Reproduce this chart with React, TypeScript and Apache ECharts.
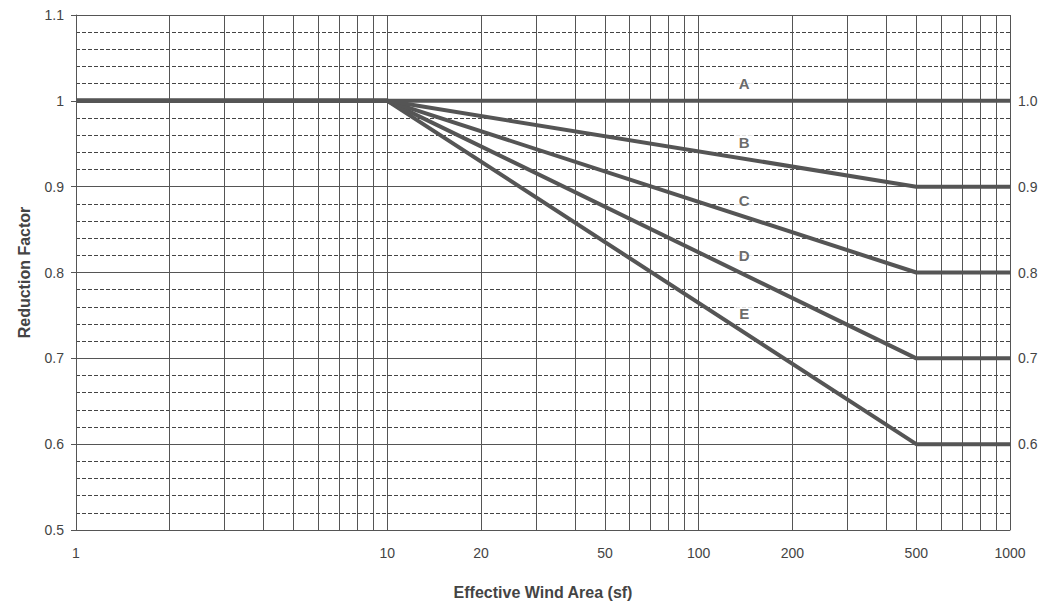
import React, { useEffect, useRef } from "react";
import * as echarts from "echarts";

const gridXValues = [1, 2, 3, 4, 5, 6, 7, 8, 9, 10, 20, 30, 40, 50, 60, 70, 80, 90, 100, 200, 300, 400, 500, 600, 700, 800, 900, 1000];
const xLabelValues = [1, 10, 20, 50, 100, 200, 500, 1000];
const seriesNames = ["A", "B", "C", "D", "E"];
const seriesPoints: number[][][] = [
  [[1, 1.0], [10, 1.0], [1000, 1.0]],
  [[1, 1.0], [10, 1.0], [500, 0.9], [1000, 0.9]],
  [[1, 1.0], [10, 1.0], [500, 0.8], [1000, 0.8]],
  [[1, 1.0], [10, 1.0], [500, 0.7], [1000, 0.7]],
  [[1, 1.0], [10, 1.0], [500, 0.6], [1000, 0.6]],
];
const letterPoints: number[][] = [
  [140, 1.02],
  [140, 0.952],
  [140, 0.884],
  [140, 0.82],
  [140, 0.752],
];

export default function App() {
  const ref = useRef<HTMLDivElement>(null);
  useEffect(() => {
    if (!ref.current) return;
    const chart = echarts.init(ref.current, null, { renderer: "svg" });
    const lineColor = "#555";
    const textColor = "#444";
    const font = "Liberation Sans, Arial, sans-serif";
    const series: any[] = seriesNames.map((n, i) => ({
      name: n,
      type: "line",
      data: seriesPoints[i],
      symbol: "none",
      lineStyle: { color: lineColor, width: 4 },
      z: 5 - i,
      endLabel: {
        show: true,
        formatter: (p: any) => Number(p.value[1]).toFixed(1),
        color: textColor,
        fontSize: 14,
        fontFamily: font,
        distance: 8,
      },
    }));
    series.push({
      type: "scatter",
      data: letterPoints.map((p, i) => ({ name: seriesNames[i], value: p })),
      symbolSize: 0,
      silent: true,
      z: 10,
      label: {
        show: true,
        position: "inside",
        formatter: (p: any) => p.name,
        color: textColor,
        fontSize: 15,
        fontWeight: "bold",
        fontFamily: font,
        backgroundColor: "#fff",
        padding: [1, 3],
      },
    });
    chart.setOption({
      animation: false,
      backgroundColor: "#fff",
      grid: { left: 54, right: 30, top: 7, bottom: 60, containLabel: false },
      xAxis: {
        type: "log",
        logBase: 10,
        min: 1,
        max: 1000,
        name: "Effective Wind Area (sf)",
        nameLocation: "middle",
        nameGap: 54,
        nameTextStyle: { fontSize: 16, fontWeight: "bold", color: textColor, fontFamily: font },
        axisLine: { show: true, lineStyle: { color: lineColor, width: 1 } },
        axisTick: { show: false, customValues: gridXValues },
        axisLabel: {
          customValues: xLabelValues,
          formatter: (v: number) => String(Math.round(v)),
          color: textColor,
          fontSize: 14,
          margin: 16,
          fontFamily: font,
        },
        splitLine: { show: true, lineStyle: { color: lineColor, width: 1, type: "solid" } },
        minorTick: { show: false },
        minorSplitLine: { show: false },
      },
      yAxis: {
        type: "value",
        min: 0.5,
        max: 1.1,
        interval: 0.1,
        name: "Reduction Factor",
        nameLocation: "middle",
        nameGap: 44,
        nameTextStyle: { fontSize: 16, fontWeight: "bold", color: textColor, fontFamily: font },
        axisLine: { show: true, lineStyle: { color: lineColor, width: 1 } },
        axisTick: { show: true, length: 5, lineStyle: { color: lineColor } },
        axisLabel: {
          color: textColor,
          fontSize: 14,
          margin: 12,
          fontFamily: font,
          formatter: (v: number) => String(Math.round(v * 10) / 10),
        },
        splitLine: { show: true, lineStyle: { color: lineColor, width: 1 } },
        minorTick: { show: false, splitNumber: 5 },
        minorSplitLine: { show: true, lineStyle: { color: "#444", width: 1, type: [4, 2] } },
      },
      series,
    });
    return () => chart.dispose();
  }, []);
  return <div ref={ref} style={{ width: 1032, height: 597 }} />;
}
